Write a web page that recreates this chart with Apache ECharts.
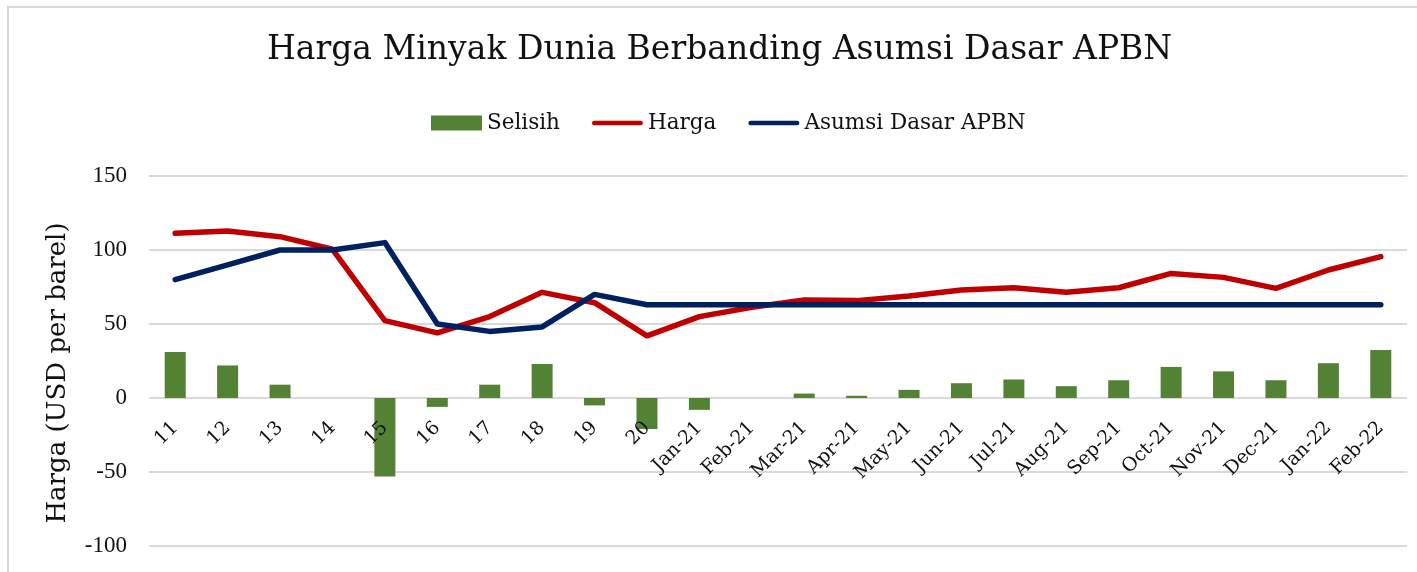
<!DOCTYPE html>
<html>
<head>
<meta charset="utf-8">
<title>Harga Minyak Dunia Berbanding Asumsi Dasar APBN</title>
<script src="https://cdn.jsdelivr.net/npm/echarts@6/dist/echarts.min.js"></script>
<style>
    html, body { margin: 0; padding: 0; background: #fff; }
    #chart { width: 1417px; height: 572px; }
</style>
</head>
<body>
<div id="chart"></div>
<script>
var categories = ['11', '12', '13', '14', '15', '16', '17', '18', '19', '20',
    'Jan-21', 'Feb-21', 'Mar-21', 'Apr-21', 'May-21', 'Jun-21', 'Jul-21', 'Aug-21',
    'Sep-21', 'Oct-21', 'Nov-21', 'Dec-21', 'Jan-22', 'Feb-22'];
var selisih = [31, 22, 9, 0, -53, -6, 9, 23, -5, -21,
    -8, 0, 3, 1.5, 5.5, 10, 12.5, 8, 12, 21, 18, 12, 23.5, 32.5];
var harga = [111.3, 112.8, 109, 100.5, 52.3, 44, 55, 71.4, 64.4, 42,
    55, 61.3, 66.2, 65.8, 68.9, 73, 74.5, 71.4, 74.5, 84.2, 81.5, 74.1, 86.5, 95.5];
var asumsi = [80, 90, 100, 100, 105, 50, 45, 48, 70, 63,
    63, 63, 63, 63, 63, 63, 63, 63, 63, 63, 63, 63, 63, 63];
var yTicks = { min: -100, max: 150, interval: 50 };

var chartDom = document.getElementById('chart');
var myChart = echarts.init(chartDom);
var serif = 'DejaVu Serif';
// thick line with round ends, used as legend marker for the two line series
var lineIcon = 'path://M2.5,0 H52.5 A2.5,2.5 0 0 1 52.5,5 H2.5 A2.5,2.5 0 0 1 2.5,0 Z';

var option = {
    animation: false,
    backgroundColor: '#fff',
    graphic: [
        {
            type: 'rect',
            shape: { x: 8, y: 7, width: 1430, height: 590 },
            style: { fill: 'none', stroke: '#d9d9d9', lineWidth: 2 },
            silent: true
        }
    ],
    title: {
        text: 'Harga Minyak Dunia Berbanding Asumsi Dasar APBN',
        left: 262,
        top: 29,
        textStyle: {
            fontFamily: serif,
            fontWeight: 'normal',
            fontSize: 33,
            color: '#111'
        }
    },
    legend: {
        top: 107,
        left: 426,
        itemWidth: 51,
        itemHeight: 15,
        itemGap: 32,
        textStyle: { fontFamily: serif, fontSize: 21.5, color: '#111' },
        data: [
            { name: 'Selisih', icon: 'rect' },
            { name: 'Harga', icon: lineIcon },
            { name: 'Asumsi Dasar APBN', icon: lineIcon }
        ]
    },
    grid: {
        left: 149,
        right: 10,
        top: 176,
        bottom: 26,
        containLabel: false,
        outerBoundsMode: 'none'
    },
    xAxis: {
        type: 'category',
        data: categories,
        z: 10,
        axisLine: { show: false, onZero: false },
        axisTick: { show: false },
        axisLabel: {
            rotate: 45,
            interval: 0,
            margin: -121,
            fontFamily: serif,
            fontSize: 19,
            color: '#111'
        }
    },
    yAxis: {
        type: 'value',
        min: yTicks.min,
        max: yTicks.max,
        interval: yTicks.interval,
        name: 'Harga (USD per barel)',
        nameLocation: 'middle',
        nameRotate: 90,
        nameGap: 78,
        nameTextStyle: { fontFamily: serif, fontSize: 26, color: '#111', padding: [0, 24, 0, 0] },
        axisLine: { show: false },
        axisTick: { show: false },
        axisLabel: {
            margin: 22,
            fontFamily: 'Liberation Serif',
            fontSize: 23,
            color: '#111'
        },
        splitLine: { lineStyle: { color: '#d9d9d9', width: 2 } }
    },
    series: [
        {
            name: 'Selisih',
            type: 'bar',
            barWidth: 21,
            data: selisih,
            itemStyle: { color: '#548235' }
        },
        {
            name: 'Harga',
            type: 'line',
            data: harga,
            symbol: 'none',
            lineStyle: { color: '#c00000', width: 5.5, cap: 'round', join: 'round' },
            itemStyle: { color: '#c00000' }
        },
        {
            name: 'Asumsi Dasar APBN',
            type: 'line',
            data: asumsi,
            symbol: 'none',
            lineStyle: { color: '#002060', width: 5.5, cap: 'round', join: 'round' },
            itemStyle: { color: '#002060' }
        }
    ]
};

option && myChart.setOption(option);
</script>
</body>
</html>
